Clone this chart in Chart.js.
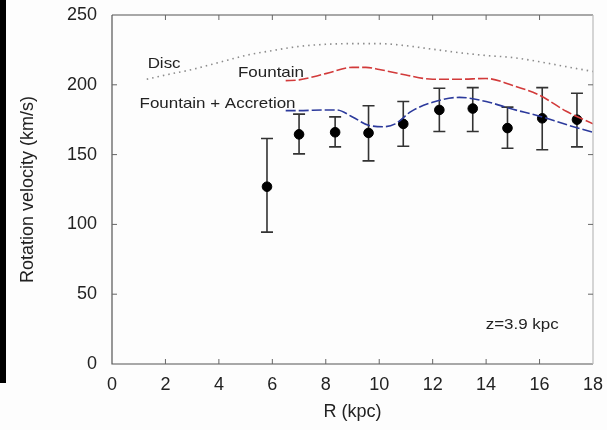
<!DOCTYPE html>
<html>
<head>
<meta charset="utf-8">
<script src="https://cdn.jsdelivr.net/npm/chart.js@4/dist/chart.umd.min.js"></script>
<style>
  html, body { margin: 0; padding: 0; background: #fdfdfd; }
  #wrap { width: 607px; height: 430px; }
</style>
</head>
<body>
<div id="wrap"><canvas id="c" width="607" height="430"></canvas></div>
<script>
// Observed rotation velocities at z = 3.9 kpc
const obsR    = [5.8, 7.0, 8.35, 9.6, 10.9, 12.25, 13.5, 14.8, 16.1, 17.4];
const obsV    = [127, 164.5, 166, 165.5, 172, 182, 183, 169, 176, 175];
const obsLow  = [94.5, 150.5, 155.5, 145.5, 156, 166.5, 166.5, 154.5, 153.5, 155.5];
const obsHigh = [161.5, 179, 177, 185, 188, 197.5, 198, 184, 198, 194];

// Model curves
const discR = [1.3, 2, 3, 4, 5, 6, 7, 8, 9, 10, 11, 12, 13, 14, 15, 16, 17, 18];
const discV = [204, 207, 211, 216, 221, 224.5, 227.5, 229, 229.5, 229.5, 228, 225.5, 223, 221, 219.5, 216.5, 213, 209.5];

const fountainR = [6.5, 7, 8, 9, 9.5, 10, 11, 12, 13, 14, 15, 16, 17, 18];
const fountainV = [203, 203.5, 208, 212.5, 212.5, 211, 207, 204, 204, 204.5, 199.5, 192.5, 181, 172];

const accretionR = [6.5, 7, 8, 8.4, 9, 9.6, 10.2, 10.6, 11.2, 12, 13, 14, 15, 16, 17, 18];
const accretionV = [181.5, 181.5, 182, 182, 177, 171, 170, 172, 181, 187.5, 191, 188, 182.5, 177.5, 171.5, 166];

// Axis ticks
const xTicks = [0, 2, 4, 6, 8, 10, 12, 14, 16, 18];
const yTicks = [0, 50, 100, 150, 200, 250];

// Text labels placed in data coordinates
const labels = [
  { text: 'Disc', r: 1.95, v: 215 },
  { text: 'Fountain', r: 5.95, v: 208.5 },
  { text: 'Fountain + Accretion', r: 3.95, v: 186.5 },
  { text: 'z=3.9 kpc', r: 15.35, v: 28 }
];

const pts = (xs, ys) => xs.map((x, i) => ({ x: x, y: ys[i] }));

const pageBackground = {
  id: 'pageBackground',
  beforeDraw(chart) {
    const ctx = chart.ctx;
    ctx.save();
    ctx.fillStyle = '#fdfdfd';
    ctx.fillRect(0, 0, chart.width, chart.height);
    ctx.fillStyle = '#000';
    ctx.fillRect(0, 0, 6, 383);
    ctx.restore();
  }
};

const errorBars = {
  id: 'errorBars',
  beforeDatasetsDraw(chart) {
    const ctx = chart.ctx, xs = chart.scales.x, ys = chart.scales.y;
    ctx.save();
    ctx.strokeStyle = '#333';
    ctx.lineWidth = 1.6;
    obsR.forEach((r, i) => {
      const px = xs.getPixelForValue(r);
      const lo = ys.getPixelForValue(obsLow[i]);
      const hi = ys.getPixelForValue(obsHigh[i]);
      ctx.beginPath();
      ctx.moveTo(px, lo); ctx.lineTo(px, hi);
      ctx.moveTo(px - 6, lo); ctx.lineTo(px + 6, lo);
      ctx.moveTo(px - 6, hi); ctx.lineTo(px + 6, hi);
      ctx.stroke();
    });
    ctx.restore();
  }
};

const frameAndLabels = {
  id: 'frameAndLabels',
  afterDraw(chart) {
    const ctx = chart.ctx, xs = chart.scales.x, ys = chart.scales.y;
    const a = chart.chartArea;
    ctx.save();
    // frame
    ctx.lineWidth = 1.2;
    ctx.strokeStyle = '#555';
    ctx.beginPath();
    ctx.moveTo(a.left, a.top); ctx.lineTo(a.left, a.bottom); ctx.lineTo(a.right, a.bottom);
    ctx.moveTo(a.left, a.top); ctx.lineTo(a.right, a.top);
    ctx.stroke();
    ctx.strokeStyle = '#bbb';
    ctx.beginPath();
    ctx.moveTo(a.right, a.top); ctx.lineTo(a.right, a.bottom);
    ctx.stroke();
    // inward ticks
    ctx.strokeStyle = '#666';
    ctx.lineWidth = 1;
    ctx.beginPath();
    xTicks.slice(1, -1).forEach(t => {
      const px = xs.getPixelForValue(t);
      ctx.moveTo(px, a.bottom); ctx.lineTo(px, a.bottom - 5);
      ctx.moveTo(px, a.top); ctx.lineTo(px, a.top + 5);
    });
    yTicks.slice(1, -1).forEach(t => {
      const py = ys.getPixelForValue(t);
      ctx.moveTo(a.left, py); ctx.lineTo(a.left + 5, py);
      ctx.moveTo(a.right, py); ctx.lineTo(a.right - 5, py);
    });
    ctx.stroke();
    // curve and panel labels
    ctx.fillStyle = '#222';
    ctx.font = '15px "Liberation Sans", Arial, sans-serif';
    ctx.textAlign = 'center';
    ctx.textBaseline = 'middle';
    labels.forEach(l => {
      const px = xs.getPixelForValue(l.r), py = ys.getPixelForValue(l.v);
      ctx.save();
      ctx.translate(px, py);
      ctx.scale(1.13, 1);
      ctx.fillText(l.text, 0, 0);
      ctx.restore();
    });
    ctx.restore();
  }
};

const tickFont = { family: '"Liberation Sans", Arial, sans-serif', size: 18 };

new Chart(document.getElementById('c'), {
  type: 'scatter',
  data: {
    datasets: [
      {
        label: 'Disc',
        type: 'line',
        data: pts(discR, discV),
        borderColor: '#8c8c8c',
        borderWidth: 1.6,
        borderDash: [1.5, 4],
        pointRadius: 0,
        fill: false,
        cubicInterpolationMode: 'monotone'
      },
      {
        label: 'Fountain',
        type: 'line',
        data: pts(fountainR, fountainV),
        borderColor: '#d23a3a',
        borderWidth: 1.6,
        borderDash: [10, 3],
        pointRadius: 0,
        fill: false,
        cubicInterpolationMode: 'monotone'
      },
      {
        label: 'Fountain + Accretion',
        type: 'line',
        data: pts(accretionR, accretionV),
        borderColor: '#2c3a9c',
        borderWidth: 1.6,
        borderDash: [10, 3],
        pointRadius: 0,
        fill: false,
        cubicInterpolationMode: 'monotone'
      },
      {
        label: 'Observed',
        data: pts(obsR, obsV),
        backgroundColor: '#000',
        borderColor: '#000',
        pointRadius: 4.8,
        pointHoverRadius: 4.8
      }
    ]
  },
  options: {
    responsive: false,
    devicePixelRatio: 1,
    animation: false,
    layout: { padding: { left: 0, right: 14, top: 15, bottom: 0 } },
    plugins: { legend: { display: false }, tooltip: { enabled: false } },
    scales: {
      x: {
        type: 'linear',
        min: 0, max: 18,
        afterBuildTicks: s => { s.ticks = xTicks.map(v => ({ value: v })); },
        afterFit: s => { s.height = 66; s.paddingLeft = 0; s.paddingRight = 0; },
        grid: { display: false, drawTicks: false },
        border: { display: false },
        ticks: { font: tickFont, color: '#222', padding: 10, maxRotation: 0 },
        title: { display: true, text: 'R (kpc)', font: tickFont, color: '#222', padding: { top: 0, bottom: 7 } }
      },
      y: {
        type: 'linear',
        min: 0, max: 250,
        afterBuildTicks: s => { s.ticks = yTicks.map(v => ({ value: v })); },
        afterFit: s => { s.width = 112; s.paddingTop = 0; s.paddingBottom = 0; },
        grid: { display: false, drawTicks: false },
        border: { display: false },
        ticks: { font: tickFont, color: '#222', padding: 15 },
        title: { display: true, text: 'Rotation velocity (km/s)', font: tickFont, color: '#222', padding: { top: 17, bottom: 0 } }
      }
    }
  },
  plugins: [pageBackground, errorBars, frameAndLabels]
});
</script>
</body>
</html>
